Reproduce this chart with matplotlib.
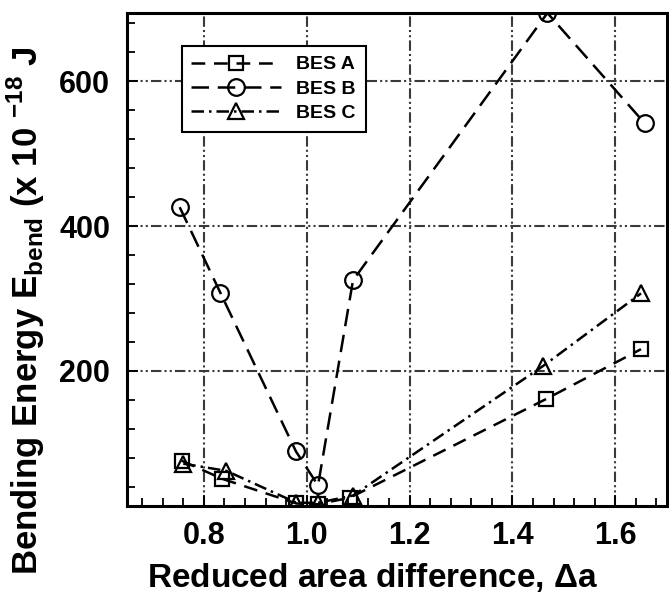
import matplotlib
matplotlib.use("Agg")
import matplotlib.pyplot as plt
from matplotlib.ticker import MultipleLocator

plt.rcParams['font.family'] = ['Liberation Sans', 'DejaVu Sans']
plt.rcParams['font.weight'] = 'bold'
plt.rcParams['mathtext.fontset'] = 'custom'
plt.rcParams['mathtext.rm'] = 'Liberation Sans'
plt.rcParams['mathtext.bf'] = 'Liberation Sans:bold'

# data
a_x = [0.757, 0.836, 0.98, 1.022, 1.084, 1.465, 1.650]
a_y = [76, 51, 17, 16, 25, 161, 230]

b_x = [0.753, 0.832, 0.979, 1.022, 1.090, 1.468, 1.657]
b_y = [426, 308, 89, 42, 325, 694, 542]

c_x = [0.760, 0.844, 0.98, 1.022, 1.090, 1.460, 1.650]
c_y = [72, 62, 18, 18, 28, 207, 307]

labels = ['BES A', 'BES B', 'BES C']

fig = plt.figure(figsize=(6.69, 5.94), dpi=100)
ax = fig.add_axes([0.1894, 0.1487, 0.8072, 0.8294])

lw = 1.8
ax.plot(a_x, a_y, color='black', lw=lw, dashes=(5.5, 3.5),
        marker='s', ms=9.5, mew=1.6, fillstyle='none', label=labels[0])
ax.plot(b_x, b_y, color='black', lw=lw, dashes=(7, 3.5),
        marker='o', ms=12, mew=1.6, fillstyle='none', label=labels[1])
ax.plot(c_x, c_y, color='black', lw=lw, dashes=(5, 2, 1, 2),
        marker='^', ms=11, mew=1.6, fillstyle='none', label=labels[2])

ax.set_xlim(0.65, 1.70)
ax.set_ylim(14, 694)

ax.xaxis.set_major_locator(MultipleLocator(0.2))
ax.xaxis.set_minor_locator(MultipleLocator(0.04))
ax.yaxis.set_major_locator(MultipleLocator(200))
ax.yaxis.set_minor_locator(MultipleLocator(40))
ax.xaxis.set_major_formatter(matplotlib.ticker.FormatStrFormatter('%.1f'))

ax.grid(True, which='major', color='#3a3a3a', lw=1.5,
        dashes=(5, 1.5, 1, 1.5, 1, 1.5))
ax.set_axisbelow(True)

ax.tick_params(which='both', direction='in', top=False, right=False,
               width=1.3, labelsize=22)
ax.tick_params(axis='x', pad=11)
ax.tick_params(axis='y', pad=12)
ax.tick_params(which='major', length=8)
ax.tick_params(which='minor', length=6)
for lab in ax.get_xticklabels() + ax.get_yticklabels():
    lab.set_fontweight('bold')
for s in ax.spines.values():
    s.set_linewidth(2.2)

ax.set_xlabel(r'Reduced area difference, $\Delta$a', fontsize=24,
              fontweight='bold')
ax.xaxis.set_label_coords(0.455, -0.112)
ax.set_ylabel(r'Bending Energy E$_{\mathbf{bend}}$ (x 10 $^{\mathbf{-18}}$ J',
              fontsize=25, fontweight='bold')
ax.yaxis.set_label_coords(-0.148, 0.395)

leg = ax.legend(loc='upper left', bbox_to_anchor=(181.7 / 669, 1 - 46 / 594),
                bbox_transform=fig.transFigure, borderaxespad=0,
                fancybox=False, framealpha=1, edgecolor='black',
                prop={'weight': 'bold', 'size': 14}, handlelength=4.6,
                labelspacing=0.35, borderpad=0.5)
leg.get_frame().set_linewidth(1.5)

fig.savefig('out.png', dpi=100)
